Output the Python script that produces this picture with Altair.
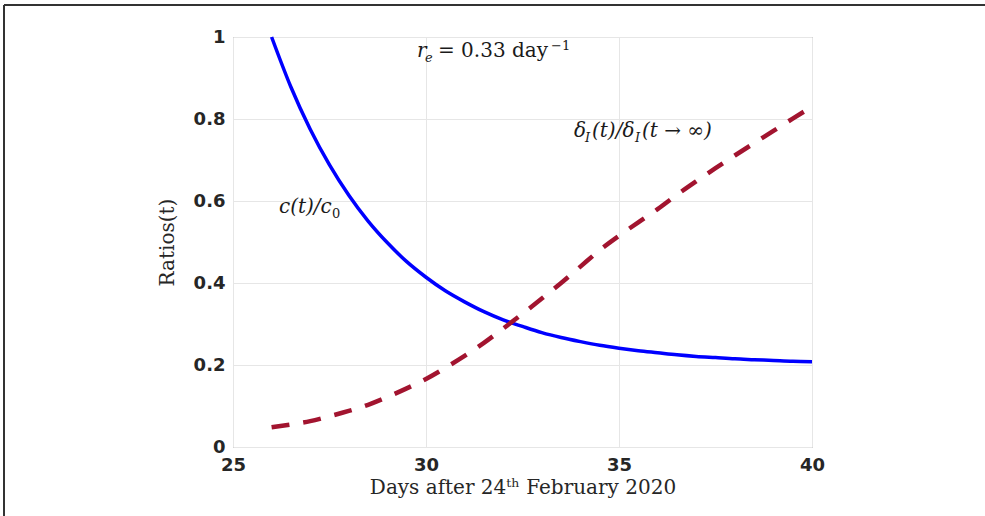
import altair as alt
import pandas as pd

# ---- data ----
days = [26, 26.5, 27, 27.5, 28, 28.5, 29, 29.5, 30, 30.5, 31, 31.5, 32, 32.5,
        33, 33.5, 34, 34.5, 35, 35.5, 36, 36.5, 37, 37.5, 38, 38.5, 39, 39.5, 40]
c_ratio = [1.0, 0.878, 0.775, 0.688, 0.614, 0.551, 0.498, 0.452, 0.414, 0.381,
           0.354, 0.330, 0.310, 0.294, 0.279, 0.267, 0.257, 0.248, 0.241, 0.235,
           0.230, 0.225, 0.221, 0.218, 0.215, 0.213, 0.211, 0.209, 0.208]
delta_ratio = [0.048, 0.055, 0.063, 0.075, 0.088, 0.103, 0.122, 0.143, 0.166,
               0.193, 0.222, 0.254, 0.289, 0.325, 0.362, 0.400, 0.440, 0.480,
               0.515, 0.548, 0.580, 0.615, 0.648, 0.680, 0.711, 0.741, 0.771,
               0.801, 0.830]

x_ticks = [25, 30, 35, 40]
y_ticks = [0, 0.2, 0.4, 0.6, 0.8, 1]

# annotation fragments (text, x, y in data units, size, style)
ann_text = ["r", "e", "= 0.33 day", "\u22121",
            "c(t)/c", "0",
            "\u03b4", "I", "(t)/\u03b4", "I", "(t \u2192 \u221e)"]
ann_x = [29.767, 29.974, 30.311, 33.238,
         26.192, 27.565,
         33.834, 34.119, 34.301, 35.415, 35.596]
ann_y = [0.951, 0.939, 0.951, 0.968,
         0.571, 0.559,
         0.756, 0.744, 0.756, 0.744, 0.756]
ann_size = [20, 13, 20, 13,
            20, 13,
            20, 13, 20, 13, 20]
ann_style = ["italic", "italic", "normal", "normal",
             "italic", "normal",
             "italic", "italic", "italic", "italic", "italic"]

df_c = pd.DataFrame({"t": days, "v": c_ratio})
df_d = pd.DataFrame({"t": days, "v": delta_ratio})
df_a = pd.DataFrame({"t": ann_x, "v": ann_y, "text": ann_text,
                     "size": ann_size, "style": ann_style})

W, H = 579, 410
xs = alt.Scale(domain=[25, 40], nice=False)
ys = alt.Scale(domain=[0, 1], nice=False)

LABEL_FONT = "DejaVu Sans"
SERIF = "DejaVu Serif"

x_axis = alt.Axis(values=x_ticks, title="Days after 24\u1d57\u02b0 February 2020",
                  format="d", labelFont=LABEL_FONT, labelFontWeight="bold",
                  labelFontSize=18, labelColor="#262626", labelPadding=9,
                  labelFlush=False,
                  ticks=False, domain=False, grid=True, gridColor="#e6e6e6",
                  gridWidth=1, titleFont=SERIF, titleFontWeight="normal",
                  titleFontSize=20, titleColor="#262626", titlePadding=3)
y_axis = alt.Axis(values=y_ticks, title="Ratios(t)", format="~g",
                  labelFont=LABEL_FONT, labelFontWeight="bold",
                  labelFontSize=18, labelColor="#262626", labelPadding=8,
                  labelFlush=False,
                  ticks=False, domain=False, grid=True, gridColor="#e6e6e6",
                  gridWidth=1, titleFont=SERIF, titleFontWeight="normal",
                  titleFontSize=20, titleColor="#262626", titlePadding=16)

blue = alt.Chart(df_c).mark_line(color="#0000FF", strokeWidth=3.5, interpolate="monotone").encode(
    x=alt.X("t:Q", scale=xs, axis=x_axis),
    y=alt.Y("v:Q", scale=ys, axis=y_axis),
)
red = alt.Chart(df_d).mark_line(color="#A2142F", strokeWidth=4.5, strokeDash=[18, 14],
                                interpolate="monotone").encode(
    x=alt.X("t:Q", scale=xs),
    y=alt.Y("v:Q", scale=ys),
)


def ann_layer(style):
    return alt.Chart(df_a).transform_filter(
        alt.datum.style == style
    ).mark_text(align="left", baseline="alphabetic", font=SERIF,
                fontStyle=style, color="#1a1a1a").encode(
        x=alt.X("t:Q", scale=xs),
        y=alt.Y("v:Q", scale=ys),
        text="text:N",
        size=alt.Size("size:Q", scale=None, legend=None),
    )


ann_i = ann_layer("italic")
ann_n = ann_layer("normal")

# outer frame lines (top and left) of the figure
frame_top = alt.Chart(pd.DataFrame({"a": [0]})).mark_rule(color="#333333", strokeWidth=2).encode(
    x=alt.value(-229), x2=alt.value(752), y=alt.value(-32))
frame_left = alt.Chart(pd.DataFrame({"a": [0]})).mark_rule(color="#333333", strokeWidth=2).encode(
    x=alt.value(-229), y=alt.value(-32), y2=alt.value(479))

chart = alt.layer(blue, red, ann_i, ann_n, frame_top, frame_left).properties(
    width=W, height=H,
    background="white",
    autosize=alt.AutoSizeParams(type="none"),
    padding={"left": 233, "top": 37, "right": 173, "bottom": 69},
).configure_view(stroke="#888888", strokeWidth=1)

chart.save("out.html", embed_options={"renderer": "svg", "actions": False})
